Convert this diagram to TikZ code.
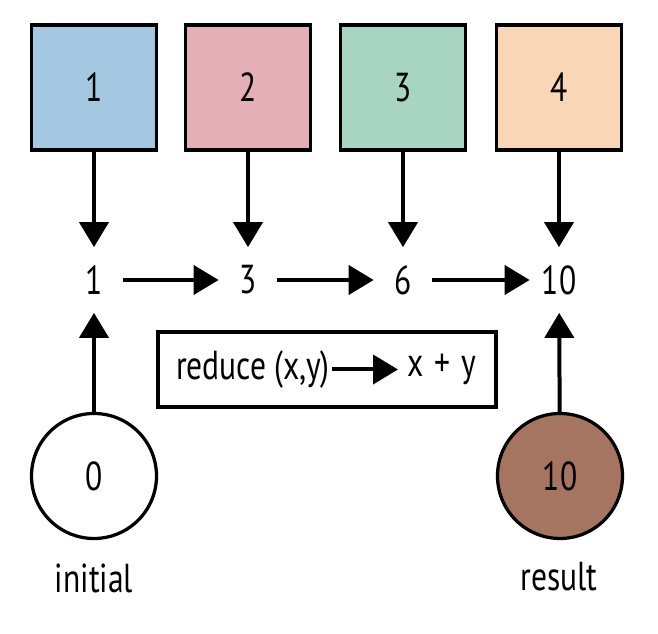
\documentclass[tikz,border=0pt]{standalone}
\usepackage{fontspec}
\setmainfont{PT Sans}[FakeStretch=0.78]
\usepackage{tikz}
\usetikzlibrary{arrows.meta,shapes,positioning}
\usepackage{xcolor}
\definecolor{rdblue}{RGB}{164,200,226}
\definecolor{rdpink}{RGB}{228,176,181}
\definecolor{rdgreen}{RGB}{167,213,193}
\definecolor{rdorange}{RGB}{249,214,181}
\definecolor{rdbrown}{RGB}{166,117,97}
\tikzstyle{arrow} = [line width=0.08cm,-{Triangle[length=0.5cm,width=0.58cm]}]
\tikzstyle{element} = [rectangle, minimum width=2.5cm, minimum height=2.5cm, inner sep=0, draw=black, line width=0.075cm]
\tikzstyle{partial} = [minimum width=1.16cm, minimum height=1.3cm, inner sep=0]
\tikzstyle{value} = [circle, minimum size=2.5cm, inner sep=0, draw=black, line width=0.065cm]

\begin{document}
\begin{tikzpicture}[font=\fontsize{23}{27}\selectfont]
    \useasboundingbox (0,0) rectangle (13.16,12.68);

    % input elements
    \node[element, fill=rdblue] (e1) at (1.88, 10.93) {1};
    \node[element, fill=rdpink] (e2) at (4.96, 10.93) {2};
    \node[element, fill=rdgreen] (e3) at (8.06, 10.93) {3};
    \node[element, fill=rdorange] (e4) at (11.18, 10.93) {4};

    % running sums
    \node[partial] (p1) at (1.88, 7.08) {1};
    \node[partial] (p2) at (4.96, 7.08) {3};
    \node[partial] (p3) at (8.06, 7.08) {6};
    \node[partial] (p4) at (11.18, 7.08) {10};
    \draw[arrow] (e1) -- (p1);
    \draw[arrow] (e2) -- (p2);
    \draw[arrow] (e3) -- (p3);
    \draw[arrow] (e4) -- (p4);
    \draw[arrow] (p1) -- (p2);
    \draw[arrow] (p2) -- (p3);
    \draw[arrow] (p3) -- (p4);

    % reduce function
    \node[rectangle, draw=black, line width=0.07cm, minimum width=6.76cm, minimum height=1.5cm] (fnbox) at (6.54, 5.29) {};
    \node[anchor=east, inner xsep=0.04cm, inner ysep=0] (fn) at (6.64, 5.29) {reduce (x,y)};
    \node[anchor=west, inner xsep=0.18cm, inner ysep=0] (fnres) at (7.96, 5.29) {x\hspace{0.05cm} + \hspace{0.05cm}y};
    \draw[arrow] (fn) -- (fnres);

    % initial value and result
    \node[value, fill=white] (init) at (1.88, 3.16) {0};
    \node[value, fill=rdbrown] (res) at (11.2, 3.16) {10};
    \node (initlbl) at (1.88, 1.12) {initial};
    \node (reslbl) at (11.18, 1.14) {result};
    \draw[arrow] (init) -- (p1);
    \draw[arrow] (res) -- (p4);
\end{tikzpicture}
\end{document}
